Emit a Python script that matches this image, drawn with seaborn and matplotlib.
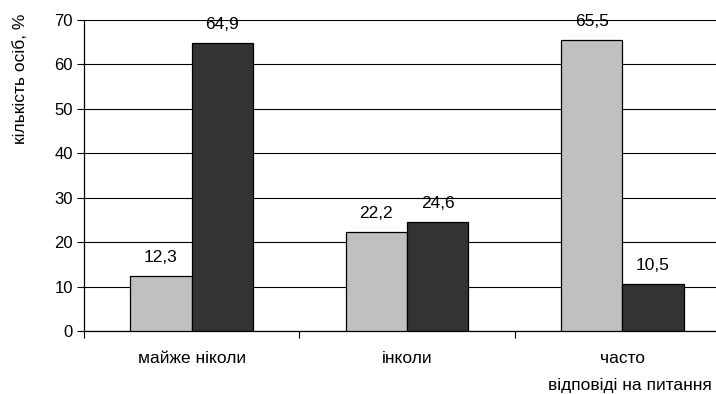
import matplotlib
matplotlib.use("Agg")
import matplotlib.pyplot as plt
import seaborn as sns
import pandas as pd
from matplotlib.ticker import FixedLocator

categories = ["майже ніколи", "інколи", "часто"]
series_names = ["група 1", "група 2"]
values_group1 = [12.3, 22.2, 65.5]
values_group2 = [64.9, 24.6, 10.5]
y_ticks = [0, 10, 20, 30, 40, 50, 60, 70]

df = pd.DataFrame({
    "category": categories * 2,
    "series": [series_names[0]] * 3 + [series_names[1]] * 3,
    "value": values_group1 + values_group2,
})

sns.set_theme(style="white")
plt.rcParams["font.family"] = ["Liberation Sans", "DejaVu Sans"]

fig = plt.figure(figsize=(7.16, 3.94), dpi=100)
ax = fig.add_axes([84 / 716, 63 / 394, 646 / 716, 311 / 394])

sns.barplot(
    data=df, x="category", y="value", hue="series",
    order=categories, hue_order=series_names,
    palette=["#c0c0c0", "#333333"], width=0.57,
    edgecolor="black", linewidth=0.9, saturation=1,
    legend=False, ax=ax, zorder=3,
)

# value labels with decimal comma
for container in ax.containers:
    for bar in container:
        h = bar.get_height()
        ax.annotate(f"{h:.1f}".replace(".", ","),
                    (bar.get_x() + bar.get_width() / 2, h),
                    xytext=(0, 8), textcoords="offset points",
                    ha="center", va="bottom", fontsize=12.5,
                    color="black", clip_on=False, zorder=5)

ax.set_ylim(0, 70)
ax.set_xlim(-0.5, 2.5)
ax.set_yticks(y_ticks)
ax.yaxis.grid(True, color="black", linewidth=0.8, zorder=0)
ax.set_axisbelow(True)

for side in ("top", "right"):
    ax.spines[side].set_visible(False)
for side in ("left", "bottom"):
    ax.spines[side].set_color("black")
    ax.spines[side].set_linewidth(0.9)

ax.tick_params(axis="y", which="major", left=True, length=5, width=0.8,
               color="black", labelsize=12, pad=3, labelcolor="black")
ax.tick_params(axis="x", which="major", bottom=False, labelsize=12.5,
               pad=8.5, labelcolor="black")
ax.xaxis.set_minor_locator(FixedLocator([-0.5, 0.5, 1.5, 2.5]))
ax.tick_params(axis="x", which="minor", bottom=True, length=5, width=0.8,
               color="black")

ax.set_xlabel("")
ax.set_ylabel("")
fig.text(21 / 716, 1 - 14 / 394, "кількість осіб, %", rotation=90,
         ha="center", va="top", fontsize=12.5, color="black")
fig.text(712 / 716, 1 / 394, "відповіді на питання", ha="right",
         va="bottom", fontsize=12.5, color="black")

fig.savefig("out.png", dpi=100)
